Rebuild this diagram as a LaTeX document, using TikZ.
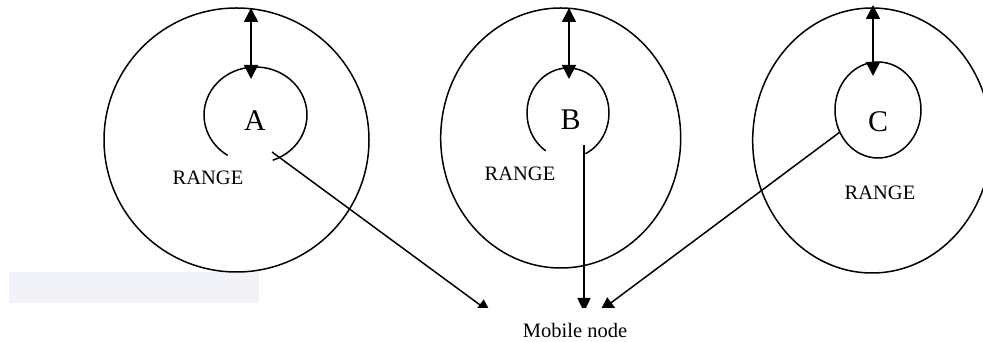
\documentclass[tikz,border=0pt]{standalone}
\usepackage{fontspec}
\setmainfont{Liberation Serif}
\usetikzlibrary{arrows.meta}
\begin{document}
\begin{tikzpicture}[x=1pt,y=1pt,
  ring/.style={draw=black,line width=1.5pt},
  link/.style={draw=black,line width=1.5pt,-{Triangle[length=14pt,width=13pt]}},
  dlink/.style={draw=black,line width=1.6pt,{Triangle[length=14pt,width=14pt]}-{Triangle[length=14pt,width=14pt]}},
  letter/.style={font=\fontsize{30}{30}\selectfont,inner sep=0pt},
  rlabel/.style={font=\fontsize{20.5}{20.5}\selectfont,inner sep=0pt}]
\useasboundingbox (0,0) rectangle (983,342);
\clip (0,0) rectangle (983,342);
% light grey patch
\fill[fill={rgb,255:red,242;green,243;blue,249}] (9,39) rectangle (259,70);
% outer ranges
\draw[ring] (236.5,202) ellipse [x radius=132.5,y radius=132];
\draw[ring] (560.7,204) ellipse [x radius=120,y radius=130];
\draw[ring] (872,201.5) ellipse [x radius=119.3,y radius=132.5];
% inner nodes
\draw[ring] (255.5,227) ++(-70.5:51.5 and 48) arc [start angle=-70.5,end angle=237.3,x radius=51.5,y radius=48];
\draw[ring] (568,229) ++(-64.8:41 and 45) arc [start angle=-64.8,end angle=237.1,x radius=41,y radius=45];
\draw[ring] (878,232) ellipse [x radius=43,y radius=48];
% labels
\node[letter] (A) at (255,221) {A};
\node[letter] (B) at (570.7,222) {B};
\node[letter] (C) at (878,220) {C};
\node[rlabel] (rA) at (208,164) {RANGE};
\node[rlabel] (rB) at (520,168) {RANGE};
\node[rlabel] (rC) at (880,149) {RANGE};
\node[rlabel] (mob) at (575,12) {Mobile node};
% range arrows
\coordinate (aTop) at (251,334);
\coordinate (aIn) at (251,263);
\coordinate (bTop) at (569,334);
\coordinate (bIn) at (569,263);
\coordinate (cTop) at (873,337);
\coordinate (cIn) at (873,266);
\draw[dlink] (aIn) -- (aTop);
\draw[dlink] (bIn) -- (bTop);
\draw[dlink] (cIn) -- (cTop);
% links to mobile node
\coordinate (aS) at (272,190);
\coordinate (bS) at (584,197);
\coordinate (cS) at (840,210);
\coordinate (aT) at (491,29);
\coordinate (bT) at (584,30);
\coordinate (cT) at (600,31);
\begin{scope}
\clip (0,34) rectangle (983,342);
\draw[link] (aS) -- (aT);
\draw[link] (bS) -- (bT);
\draw[link] (cS) -- (cT);
\end{scope}
\end{tikzpicture}
\end{document}
